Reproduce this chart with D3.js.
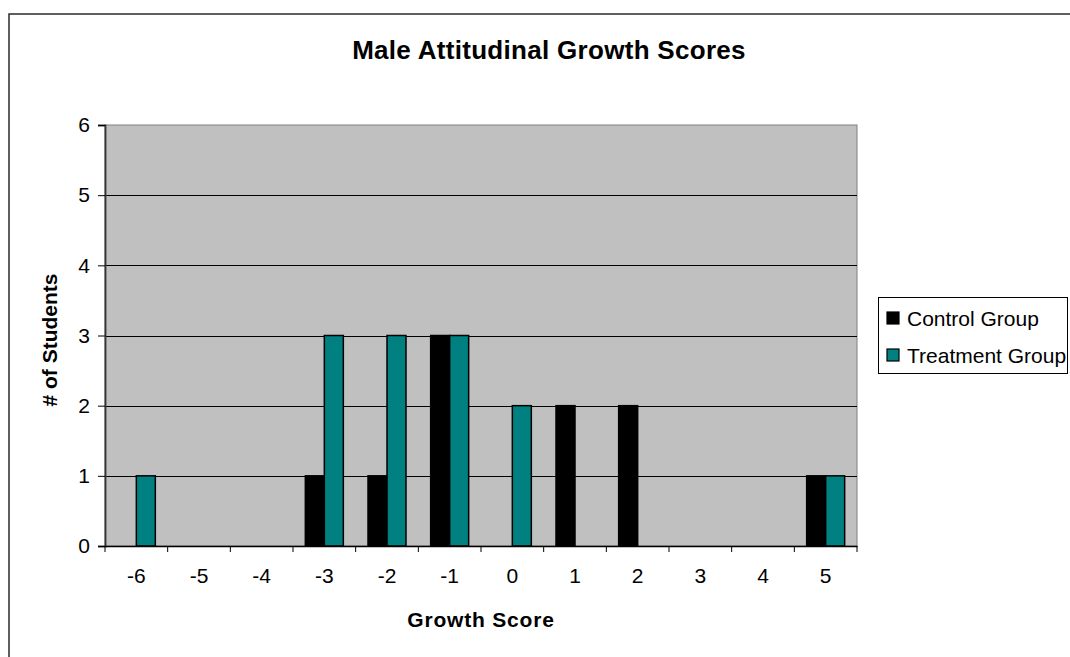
<!DOCTYPE html>
<html>
<head>
<meta charset="utf-8">
<script src="https://cdn.jsdelivr.net/npm/d3@7"></script>
<style>
  html, body { margin: 0; padding: 0; background: #fff; }
  svg { display: block; font-family: "Liberation Sans", Arial, sans-serif; }
</style>
</head>
<body>
<svg id="chart" width="1070" height="657"></svg>
<script>
// Growth score categories and number of male students in each group
const categories = ["-6", "-5", "-4", "-3", "-2", "-1", "0", "1", "2", "3", "4", "5"];
const controlGroup = [0, 0, 0, 1, 1, 3, 0, 2, 2, 0, 0, 1];
const treatmentGroup = [1, 0, 0, 3, 3, 3, 2, 0, 0, 0, 0, 1];
const yTicks = [0, 1, 2, 3, 4, 5, 6];
const seriesNames = ["Control Group", "Treatment Group"];
const seriesColors = ["#000000", "#008080"];

const svg = d3.select("#chart");
const plot = { left: 105, right: 857, top: 125, bottom: 546 };

// outer chart frame
svg.append("rect")
  .attr("x", 9).attr("y", 14)
  .attr("width", 1120).attr("height", 700)
  .attr("fill", "#fff").attr("stroke", "#2b2b2b").attr("stroke-width", 1.5);

const x = d3.scaleBand().domain(categories).range([plot.left, plot.right]).padding(0);
const y = d3.scaleLinear().domain([0, 6]).range([plot.bottom, plot.top]);

// plot background
svg.append("rect")
  .attr("x", plot.left).attr("y", plot.top)
  .attr("width", plot.right - plot.left).attr("height", plot.bottom - plot.top)
  .attr("fill", "#c0c0c0").attr("stroke", "#808080").attr("stroke-width", 1);

// horizontal gridlines
svg.append("g")
  .selectAll("line")
  .data(yTicks.filter(d => d > 0 && d < 6))
  .join("line")
  .attr("x1", plot.left).attr("x2", plot.right)
  .attr("y1", d => Math.round(y(d)) + 0.5).attr("y2", d => Math.round(y(d)) + 0.5)
  .attr("stroke", "#000").attr("stroke-width", 1);

// bars
const barW = 19;
const rows = categories.map((c, i) => ({ c, vals: [controlGroup[i], treatmentGroup[i]] }));
const groups = svg.append("g").selectAll("g").data(rows).join("g");
groups.selectAll("rect")
  .data(d => d.vals.map((v, k) => ({ c: d.c, v, k })).filter(d => d.v > 0))
  .join("rect")
  .attr("x", d => x(d.c) + x.bandwidth() / 2 - barW + d.k * barW)
  .attr("y", d => y(d.v))
  .attr("width", barW)
  .attr("height", d => y(0) - y(d.v))
  .attr("fill", d => seriesColors[d.k])
  .attr("stroke", "#000").attr("stroke-width", 1.5);

// y axis
const yAxis = svg.append("g")
  .attr("transform", `translate(${plot.left},0)`)
  .call(d3.axisLeft(y).tickValues(yTicks).tickFormat(d3.format("d")).tickSize(7).tickPadding(8));
yAxis.select(".domain").attr("stroke", "#333").attr("stroke-width", 1.8);
yAxis.selectAll(".tick line").attr("stroke", "#000");
yAxis.selectAll("text").attr("font-size", 21).attr("fill", "#000");

// x axis: labels centered on categories, ticks on category boundaries
const xAxis = svg.append("g")
  .attr("transform", `translate(0,${plot.bottom})`)
  .call(d3.axisBottom(x).tickSize(0).tickPadding(22));
xAxis.select(".domain").attr("stroke", "#000").attr("stroke-width", 1.5);
xAxis.selectAll("text").attr("font-size", 21).attr("fill", "#000");

const edges = d3.scaleLinear().domain([0, categories.length]).range([plot.left, plot.right]);
svg.append("g").selectAll("line")
  .data(d3.range(categories.length + 1))
  .join("line")
  .attr("x1", d => edges(d)).attr("x2", d => edges(d))
  .attr("y1", plot.bottom).attr("y2", plot.bottom + 6)
  .attr("stroke", "#000").attr("stroke-width", 1);

// titles
svg.append("text")
  .attr("x", 549).attr("y", 59)
  .attr("text-anchor", "middle")
  .attr("font-size", 26).attr("font-weight", "bold")
  .attr("letter-spacing", 0.3)
  .text("Male Attitudinal Growth Scores");

svg.append("text")
  .attr("x", (plot.left + plot.right) / 2).attr("y", 627)
  .attr("text-anchor", "middle")
  .attr("font-size", 21).attr("font-weight", "bold")
  .attr("letter-spacing", 0.8)
  .text("Growth Score");

svg.append("text")
  .attr("transform", `translate(57,340) rotate(-90)`)
  .attr("text-anchor", "middle")
  .attr("font-size", 21).attr("font-weight", "bold")
  .text("# of Students");

// legend
const legend = svg.append("g");
legend.append("rect")
  .attr("x", 878.5).attr("y", 297.5)
  .attr("width", 189).attr("height", 76)
  .attr("fill", "#fff").attr("stroke", "#000").attr("stroke-width", 1);
const items = legend.selectAll("g.item")
  .data(seriesNames)
  .join("g")
  .attr("class", "item")
  .attr("transform", (d, i) => `translate(887,${318 + i * 37})`);
items.append("rect")
  .attr("x", 0).attr("y", -6)
  .attr("width", 12).attr("height", 12)
  .attr("fill", (d, i) => seriesColors[i])
  .attr("stroke", "#000").attr("stroke-width", 1.2);
items.append("text")
  .attr("x", 20).attr("y", 7.5)
  .attr("font-size", 21)
  .text(d => d);
</script>
</body>
</html>
